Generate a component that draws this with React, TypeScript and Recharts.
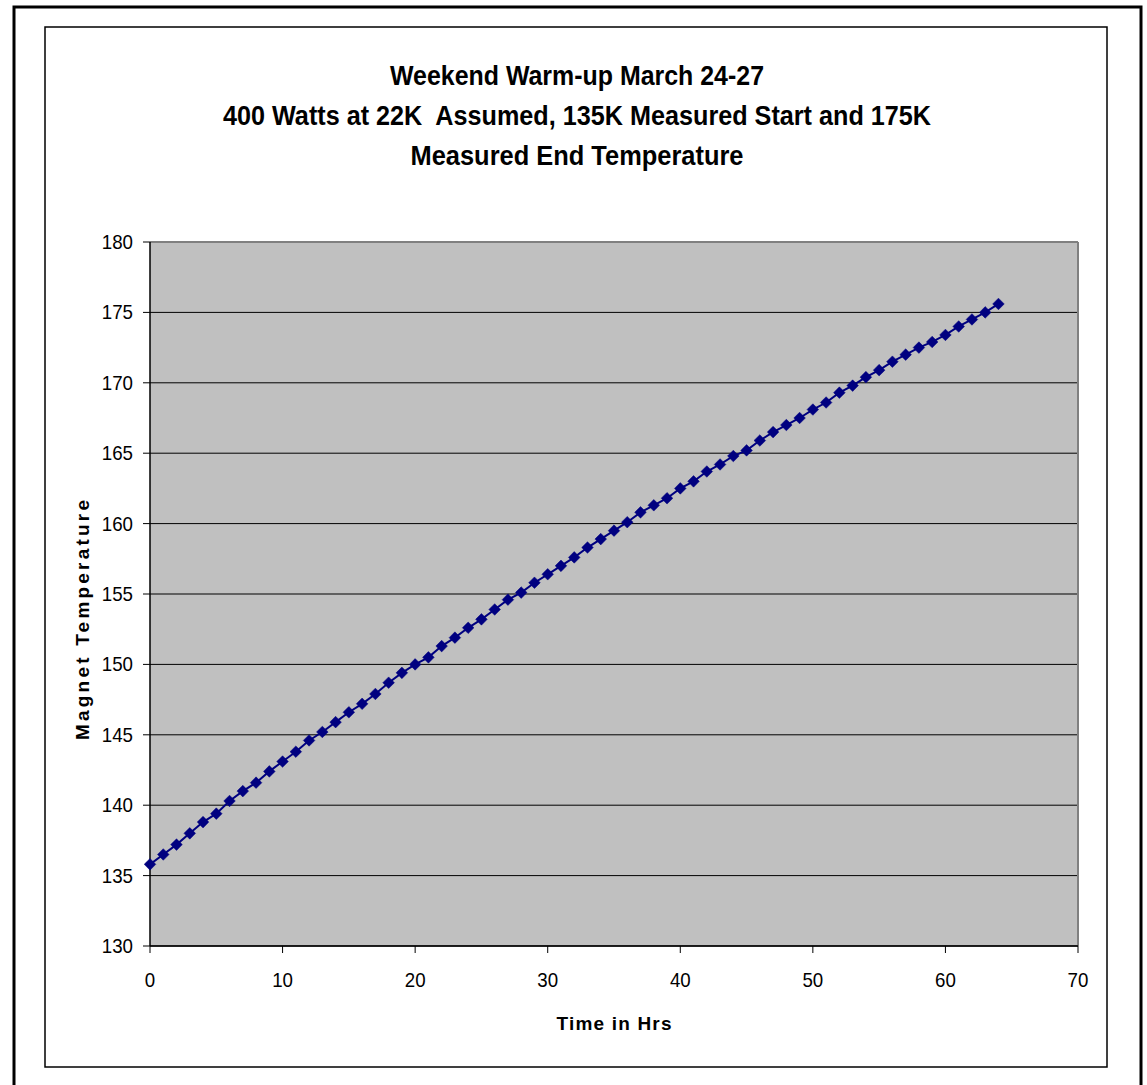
import { LineChart, Line, XAxis, YAxis, CartesianGrid, ReferenceLine } from 'recharts'

const hours = [
  0, 1, 2, 3, 4, 5, 6, 7, 8, 9, 10, 11, 12, 13, 14, 15, 16, 17, 18, 19, 20, 21, 22, 23, 24, 25, 26, 27, 28, 29, 30, 31,
  32, 33, 34, 35, 36, 37, 38, 39, 40, 41, 42, 43, 44, 45, 46, 47, 48, 49, 50, 51, 52, 53, 54, 55, 56, 57, 58, 59, 60,
  61, 62, 63, 64,
]

const temps = [
  135.8, 136.5, 137.2, 138.0, 138.8, 139.4, 140.3, 141.0, 141.6, 142.4, 143.1, 143.8, 144.6, 145.2, 145.9, 146.6, 147.2,
  147.9, 148.7, 149.4, 150.0, 150.5, 151.3, 151.9, 152.6, 153.2, 153.9, 154.6, 155.1, 155.8, 156.4, 157.0, 157.6, 158.3,
  158.9, 159.5, 160.1, 160.8, 161.3, 161.8, 162.5, 163.0, 163.7, 164.2, 164.8, 165.2, 165.9, 166.5, 167.0, 167.5, 168.1,
  168.6, 169.3, 169.8, 170.4, 170.9, 171.5, 172.0, 172.5, 172.9, 173.4, 174.0, 174.5, 175.0, 175.6,
]

const xTicks = [0, 10, 20, 30, 40, 50, 60, 70]
const yTicks = [130, 135, 140, 145, 150, 155, 160, 165, 170, 175, 180]

const titleLines = [
  'Weekend Warm-up March 24-27',
  '400 Watts at 22K  Assumed, 135K Measured Start and 175K',
  'Measured End Temperature',
]

const data = hours.map((h, i) => ({ hour: h, temp: temps[i] }))

const FONT = '"Liberation Sans", Arial, sans-serif'

function Diamond(props: any) {
  const { cx, cy } = props
  if (cx == null || cy == null) return null
  const r = 5.8
  return (
    <polygon
      points={`${cx},${cy - r} ${cx + r},${cy} ${cx},${cy + r} ${cx - r},${cy}`}
      fill="#000080"
      stroke="#000080"
      strokeWidth={0.5}
    />
  )
}

// slightly condensed tick text, like the original export
function Tick(props: any) {
  const { x, y, payload, textAnchor, axis } = props
  const s = String(payload.value)
  const dy = axis === 'x' ? 15 : 7
  return (
    <text
      x={x}
      y={y + dy}
      textAnchor={textAnchor}
      fontFamily={FONT}
      fontSize={21}
      fill="#000"
      textLength={s.length * 10.4}
      lengthAdjust="spacingAndGlyphs"
    >
      {s}
    </text>
  )
}

export default function App() {
  // widths of each title line in the reference
  const titleWidths = [374, 708, 333]

  return (
    <div style={{ position: 'absolute', left: 0, top: 0, width: 1147, height: 1085, background: '#fff', overflow: 'hidden' }}>
      <LineChart
        width={1147}
        height={1085}
        data={data}
        margin={{ top: 242, right: 69, bottom: 99, left: 90 }}
      >
        <CartesianGrid vertical={false} stroke="#000" strokeOpacity={1} fill="#C0C0C0" fillOpacity={1} />
        <XAxis
          dataKey="hour"
          type="number"
          domain={[0, 70]}
          ticks={xTicks}
          height={40}
          tickSize={7}
          tickMargin={19}
          stroke="#000"
          tick={<Tick axis="x" />}
          axisLine={{ stroke: '#000', strokeWidth: 1.5 }}
        />
        <YAxis
          type="number"
          domain={[130, 180]}
          ticks={yTicks}
          width={60}
          tickSize={7}
          tickMargin={10}
          stroke="#000"
          tick={<Tick axis="y" />}
          axisLine={{ stroke: '#000', strokeWidth: 1.5 }}
          interval={0}
        />
        <ReferenceLine y={180} stroke="#808080" strokeWidth={2} />
        <ReferenceLine x={70} stroke="#808080" strokeWidth={2} />
        <Line
          dataKey="temp"
          stroke="#000080"
          strokeWidth={2}
          dot={<Diamond />}
          activeDot={false}
          isAnimationActive={false}
        />
      </LineChart>
      <svg
        width={1147}
        height={1085}
        style={{ position: 'absolute', left: 0, top: 0, pointerEvents: 'none' }}
      >
        <rect x={14} y={7} width={1127} height={1100} fill="none" stroke="#000" strokeWidth={3} />
        <rect x={45} y={27} width={1062} height={1040} fill="none" stroke="#000" strokeWidth={1.5} />
        {titleLines.map((t, i) => (
          <text
            key={i}
            x={577}
            y={85 + i * 40}
            textAnchor="middle"
            fontFamily={FONT}
            fontWeight="bold"
            fontSize={27}
            textLength={titleWidths[i]}
            lengthAdjust="spacingAndGlyphs"
            style={{ whiteSpace: 'pre' }}
          >
            {t}
          </text>
        ))}
        <text
          x={614}
          y={1030}
          textAnchor="middle"
          fontFamily={FONT}
          fontWeight="bold"
          fontSize={19}
          textLength={115}
          lengthAdjust="spacing"
        >
          Time in Hrs
        </text>
        <text
          transform="translate(89, 620) rotate(-90)"
          textAnchor="middle"
          fontFamily={FONT}
          fontWeight="bold"
          fontSize={19}
          textLength={240}
          lengthAdjust="spacing"
        >
          Magnet Temperature
        </text>
      </svg>
    </div>
  )
}
